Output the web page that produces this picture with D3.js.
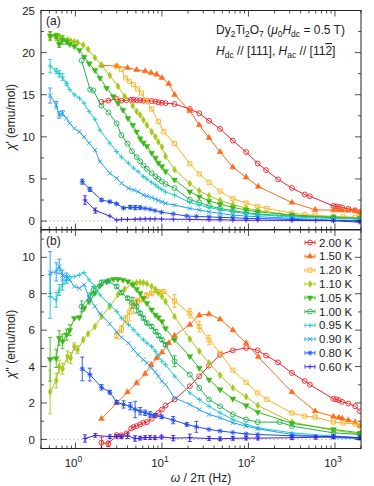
<!DOCTYPE html>
<html>
<head>
<meta charset="utf-8">
<script src="https://cdn.jsdelivr.net/npm/d3@7/dist/d3.min.js"></script>
<style>
body { margin: 0; background: #fff; }
svg text { font-family: "Liberation Sans", Arial, sans-serif; fill: #222; }
</style>
</head>
<body>
<div></div>
<script>
// frequencies (Hz), chi' (panel a) and chi'' (panel b) for every temperature
var f200 = [2.0, 2.4, 3.0, 3.4, 3.9, 4.4, 4.7, 5.1, 5.6, 6.1, 6.7, 7.6, 8.4, 9.1, 10, 11, 14, 21, 27, 35, 47, 66, 94, 128, 160, 220, 318, 447, 512, 958, 1030, 1110, 1210, 1430, 1710, 1950];
var a200 = [14.15, 14.3, 14.5, 14.3, 14.35, 14.4, 14.4, 14.35, 14.35, 14.3, 14.3, 14.25, 14.2, 14.1, 14.05, 14.0, 13.9, 13.3, 12.8, 11.9, 10.95, 9.55, 8.2, 6.85, 6.05, 4.95, 3.93, 3.15, 2.95, 1.8, 1.75, 1.7, 1.62, 1.45, 1.27, 1.07];
var b200 = [-0.18, -0.24, 0.24, 0.22, 0.33, 0.6, 0.68, 0.73, 0.82, 0.91, 0.95, 1.13, 1.31, 1.46, 1.64, 1.86, 2.19, 2.92, 3.47, 4.05, 4.65, 4.89, 5.02, 4.89, 4.6, 4.23, 3.65, 3.21, 3.01, 2.23, 2.2, 2.15, 2.06, 1.97, 1.82, 1.55];
var eb200 = [0.3, 0.15];

var f150 = [2, 3, 4, 5.1, 6.4, 7.5, 8.7, 10, 12, 14, 21, 27, 35, 47, 66, 94, 130, 318, 590, 960, 1110, 1210, 1430, 1710, 1950];
var a150 = [18.5, 18.4, 18.2, 17.95, 17.8, 17.6, 17.4, 17.0, 16.3, 15.0, 13.1, 11.4, 9.9, 8.2, 6.4, 5.2, 4.1, 2.2, 1.35, 1.3, 1.3, 1.28, 1.25, 1.2, 1.05];
var b150 = [1.13, 2.0, 2.6, 3.1, 3.6, 4.1, 4.47, 4.78, 5.29, 5.7, 6.3, 6.82, 6.88, 6.6, 6.0, 5.29, 4.53, 2.6, 1.55, 1.25, 1.2, 1.15, 1.05, 0.95, 0.75];

var f120 = [3.0, 3.4, 3.8, 4.2, 4.7, 5.2, 5.8, 6.6, 7.6, 9.1, 10.5, 14, 21, 27, 35, 47, 66, 94, 128, 163, 318, 447, 590, 960, 1240, 1710, 1950];
var a120 = [18.4, 18.0, 17.0, 16.6, 16.2, 15.7, 15.2, 14.3, 13.3, 11.8, 10.6, 9.2, 6.8, 5.6, 4.6, 3.55, 2.66, 2.14, 1.75, 1.5, 0.95, 0.76, 0.7, 0.55, 0.5, 0.45, 0.4];
var b120 = [5.7, 6.06, 6.6, 7.0, 7.35, 7.55, 7.7, 7.9, 8.03, 8.12, 8.12, 7.6, 6.93, 6.2, 5.47, 4.74, 3.8, 3.14, 2.55, 2.2, 1.45, 1.28, 1.22, 0.95, 0.9, 0.85, 0.73];
var eb120 = [0.15, 0.2, 0.2, 0.5, 0.45, 0.2, 0.15, 0.15, 0.1, 0.1, 0.1, 0.35, 0.25, 0.3, 0.25];

var f110 = [0.51, 0.6, 0.65, 0.71, 0.81, 0.88, 0.97, 1.06, 1.23, 1.4, 1.68, 2.0, 2.5, 3.1, 3.7, 4.6, 5.1, 5.6, 6.1, 6.7, 7.6, 8.4, 9.1, 10, 11, 14, 21, 27, 35, 47, 66, 94, 128, 318, 960, 1950];
var a110 = [21.9, 21.8, 21.9, 21.7, 21.5, 21.4, 21.3, 21.2, 20.9, 20.4, 19.4, 18.5, 17.3, 16.0, 14.8, 13.7, 13.0, 12.6, 12.0, 11.4, 10.6, 10.0, 9.4, 8.8, 7.7, 6.1, 4.45, 3.6, 3.0, 2.45, 1.95, 1.55, 1.25, 0.72, 0.5, 0.4];
var b110 = [2.61, 3.23, 4.0, 3.87, 4.56, 4.47, 5.1, 4.93, 5.47, 5.8, 6.2, 6.75, 7.3, 7.94, 8.25, 8.54, 8.6, 8.62, 8.6, 8.55, 8.4, 8.25, 8.03, 7.85, 7.57, 6.75, 5.51, 4.84, 4.2, 3.52, 2.83, 2.34, 1.86, 0.95, 0.5, 0.3];
var ea110 = [0.5, 0.4, 0.3, 0.3];
var eb110 = [1.2, 0.4, 0.35, 0.3, 0.3, 0.3, 0.2, 0.2];

var f105 = [0.51, 0.6, 0.65, 0.71, 0.79, 0.86, 0.97, 1.11, 1.26, 1.44, 1.68, 1.92, 2.29, 2.74, 3.1, 3.55, 4.05, 4.6, 5.1, 5.6, 6.1, 6.7, 7.6, 8.4, 9.1, 10, 11, 14, 21, 27, 35, 47, 66, 94, 128, 318, 960, 1950];
var a105 = [22.0, 22.0, 21.0, 21.5, 21.3, 21.0, 20.75, 20.3, 19.5, 18.7, 17.9, 17.0, 15.8, 14.8, 14.0, 13.2, 12.2, 11.4, 10.6, 9.8, 9.3, 8.9, 8.1, 7.5, 6.9, 6.5, 5.9, 4.9, 3.5, 2.9, 2.4, 2.0, 1.63, 1.31, 1.1, 0.71, 0.44, 0.32];
var b105 = [4.4, 4.45, 5.57, 5.38, 5.75, 6.0, 6.66, 6.7, 7.2, 7.57, 8.03, 8.43, 8.67, 8.8, 8.8, 8.76, 8.67, 8.5, 8.25, 8.03, 7.76, 7.48, 7.12, 6.84, 6.7, 6.48, 6.1, 5.47, 4.56, 3.92, 3.28, 2.74, 2.23, 1.86, 1.5, 0.88, 0.55, 0.36];
var ea105 = [0.5, 0.3, 0.4, 0.5, 0.3];
var eb105 = [1.2, 0.5, 0.4, 0.4, 0.3, 0.3];

var f100 = [1.18, 1.48, 1.61, 2.0, 2.4, 3.0, 3.4, 4.0, 4.5, 5.1, 5.6, 6.1, 6.7, 7.6, 8.4, 9.1, 10, 11, 14, 21, 27, 35, 47, 66, 94, 128, 230, 318, 960, 1950];
var a100 = [19.05, 15.6, 15.5, 13.7, 12.9, 11.6, 10.2, 9.2, 8.3, 7.6, 7.1, 6.6, 6.2, 5.7, 5.3, 5.0, 4.7, 4.4, 3.9, 2.55, 2.2, 1.8, 1.5, 1.23, 1.0, 0.83, 0.68, 0.6, 0.4, 0.32];
var b100 = [7.3, 7.85, 8.2, 8.6, 8.7, 8.4, 8.06, 7.76, 7.5, 7.3, 6.93, 6.66, 6.39, 6.2, 5.93, 5.7, 5.47, 5.2, 4.29, 3.56, 2.83, 2.19, 1.82, 1.37, 1.09, 0.95, 0.95, 0.73, 0.36, 0.27];
var eb100 = [0.3, 0.2, 0.2, 0.15, 0.1, 0.1, 0.1, 0.1, 0.3, 0.35, 0.1, 0.1, 0.1, 0.1, 0.1, 0.1, 0.1, 0.1, 0.3];

var f095 = [0.51, 0.6, 0.65, 0.71, 0.79, 0.86, 0.97, 1.11, 1.26, 1.44, 1.68, 1.92, 2.5, 3.0, 3.4, 4.1, 4.7, 5.3, 6.1, 6.7, 7.6, 8.4, 9.1, 10, 11, 14, 21, 27, 35, 47, 66, 94, 128, 318, 960, 1950];
var a095 = [18.4, 17.8, 17.5, 17.1, 16.3, 15.6, 15.0, 14.6, 14.0, 13.0, 12.1, 10.8, 9.25, 8.25, 7.6, 6.87, 6.3, 5.87, 5.28, 5.0, 4.6, 4.3, 4.0, 3.75, 3.45, 3.1, 2.2, 1.9, 1.6, 1.35, 1.1, 0.9, 0.75, 0.5, 0.3, 0.24];
var b095 = [7.85, 7.66, 8.2, 8.5, 8.76, 8.94, 8.94, 9.03, 9.16, 8.76, 8.4, 7.94, 7.39, 7.03, 6.66, 6.3, 6.02, 5.75, 5.47, 5.29, 5.1, 4.84, 4.6, 4.29, 4.1, 3.47, 2.55, 2.19, 1.82, 1.46, 1.09, 0.82, 0.64, 0.36, 0.18, 0.09];
var ea095 = [0.8, 0.3, 0.4, 0.4, 0.2];
var eb095 = [1.2, 0.4, 0.3, 0.3, 0.2];

var f090 = f095;
var a090 = [14.9, 13.8, 12.6, 12.8, 12.2, 11.6, 11.0, 10.6, 10.0, 9.25, 8.45, 7.06, 5.67, 5.08, 4.48, 3.89, 3.69, 3.49, 3.1, 2.95, 2.8, 2.6, 2.45, 2.3, 2.1, 1.9, 1.5, 1.31, 1.1, 0.91, 0.71, 0.6, 0.52, 0.32, 0.12, 0.04];
var b090 = [9.16, 9.2, 9.5, 9.0, 8.94, 8.76, 8.4, 8.3, 8.5, 7.8, 7.3, 6.9, 6.35, 5.9, 5.6, 5.29, 4.93, 4.65, 4.38, 4.2, 3.92, 3.69, 3.47, 3.19, 3.01, 2.28, 1.92, 1.64, 1.37, 1.19, 0.91, 0.73, 0.58, 0.27, 0.09, 0.04];
var ea090 = [0.9, 0.4, 0.4, 0.3];
var eb090 = [1.15, 0.5, 0.4, 0.3, 0.2];

var f080 = [1.2, 1.47, 2.0, 2.5, 3.0, 3.6, 4.3, 4.9, 5.6, 6.4, 7.3, 8.3, 9.9, 13.5, 19.4, 25, 35, 47, 66, 94, 128, 318, 960, 1950];
var a080 = [4.68, 3.77, 2.5, 2.3, 2.05, 1.55, 1.65, 1.6, 1.6, 1.5, 1.4, 1.25, 1.05, 0.85, 0.6, 0.55, 0.5, 0.44, 0.4, 0.32, 0.3, 0.2, 0.05, -0.15];
var b080 = [3.87, 3.56, 2.86, 2.59, 2.04, 1.92, 1.82, 1.64, 1.55, 1.46, 1.37, 1.31, 1.24, 1.06, 0.82, 0.69, 0.55, 0.46, 0.38, 0.3, 0.27, 0.2, 0.15, 0.09];
var ea080 = [0.3, 0.25, 0.15, 0.1, 0.1, 0.1, 0.2, 0.25, 0.2];
var eb080 = [0.65, 0.35, 0.15, 0.1, 0.1, 0.2, 0.2, 0.45, 0.2, 0.15, 0.15, 0.1, 0.1, 0.2, 0.1, 0.3];

var f060 = [1.29, 1.7, 2.5, 3.0, 3.4, 4.0, 4.9, 5.6, 6.4, 7.3, 8.3, 9.9, 13.5, 21, 35, 47, 66, 94, 128, 318, 600, 960, 1950];
var a060 = [2.5, 1.25, 0.6, 0.12, 0.2, 0.2, 0.22, 0.24, 0.26, 0.26, 0.26, 0.24, 0.22, 0.2, 0.15, 0.15, 0.12, 0.1, 0.1, 0.08, 0.06, 0.05, 0.0];
var b060 = [0.05, 0.22, 0.15, 0.17, 0.15, 0.2, 0.05, 0.07, 0.1, 0.1, 0.09, 0.13, 0.07, 0.09, 0.05, 0.03, 0.06, 0.07, 0.07, 0.09, 0.12, 0.15, 0.09];
var ea060 = [0.5, 0.3];
var eb060 = [0.2, 0.1, 0.1, 0.1, 0.1, 0.15, 0.15, 0.1, 0.1, 0.1, 0.1, 0.1, 0.15, 0.2, 0.1, 0.1, 0.1, 0.1, 0.1, 0.1, 0.1, 0.1, 0.1];

var temps = ["2.00 K", "1.50 K", "1.20 K", "1.10 K", "1.05 K", "1.00 K", "0.95 K", "0.90 K", "0.80 K", "0.60 K"];
var colors = ["#ee2228", "#ff6a1c", "#ffb11c", "#a6c81a", "#3cb91a", "#1eb250", "#1cc8c8", "#1e9ff0", "#1e4ff0", "#3c1ee8"];
var shapes = ["circle", "triangle", "square", "diamond", "triDown", "circle", "plus", "cross", "star", "plus"];

var series = [
    {f: f200, a: a200, b: b200, ea: [], eb: eb200},
    {f: f150, a: a150, b: b150, ea: [], eb: []},
    {f: f120, a: a120, b: b120, ea: [], eb: eb120},
    {f: f110, a: a110, b: b110, ea: ea110, eb: eb110},
    {f: f105, a: a105, b: b105, ea: ea105, eb: eb105},
    {f: f100, a: a100, b: b100, ea: [], eb: eb100},
    {f: f095, a: a095, b: b095, ea: ea095, eb: eb095},
    {f: f090, a: a090, b: b090, ea: ea090, eb: eb090},
    {f: f080, a: a080, b: b080, ea: ea080, eb: eb080},
    {f: f060, a: a060, b: b060, ea: ea060, eb: eb060}
];
series.forEach((s, i) => { s.label = temps[i]; s.color = colors[i]; s.shape = shapes[i]; });

var width = 374;
var height = 486;

var svg = d3.select('div')
    .append('svg')
    .attr('width', width)
    .attr('height', height);

var x = d3.scaleLog().domain([0.4, 2000]).range([41, 361]);
var yA = d3.scaleLinear().domain([-1, 25]).range([229.5, 10.5]);
var yB = d3.scaleLinear().domain([-0.5, 11.5]).range([448.5, 230]);

// gnuplot-like point types, kept small
function markerPath(shape) {
    if (shape == "circle") return d3.symbol(d3.symbolCircle, 19)();
    if (shape == "triangle" || shape == "triDown") return d3.symbol(d3.symbolTriangle, 15)();
    if (shape == "square") return d3.symbol(d3.symbolSquare, 17)();
    if (shape == "diamond") return d3.symbol(d3.symbolDiamond, 14)();
    if (shape == "plus") return "M-2.5,0H2.5M0,-2.5V2.5";
    if (shape == "cross") return "M-2.2,-2.2L2.2,2.2M-2.2,2.2L2.2,-2.2";
    return "M-2.6,0H2.6M0,-2.6V2.6M-1.9,-1.9L1.9,1.9M-1.9,1.9L1.9,-1.9";
}
function drawMarker(g, s, px, py) {
    var filled = (s.shape == "triangle" || s.shape == "triDown" || s.shape == "diamond");
    var rot = s.shape == "triDown" ? " rotate(180)" : "";
    g.append("path")
        .attr("d", markerPath(s.shape))
        .attr("transform", "translate(" + px + "," + py + ")" + rot)
        .attr("fill", filled ? s.color : "none")
        .attr("stroke", s.color)
        .attr("stroke-width", filled ? 0.5 : 0.9);
}

function drawPanel(y, key, errKey, top, bottom, majorStep, minorStep, tag, ylabel, labelY) {
    var x0 = x.range()[0], x1 = x.range()[1];
    var clipId = "clip" + key;
    svg.append("clipPath").attr("id", clipId)
        .append("rect").attr("x", x0).attr("y", top).attr("width", x1 - x0).attr("height", bottom - top);

    // dashed zero line
    svg.append("line")
        .attr("x1", x0).attr("x2", x1)
        .attr("y1", y(0)).attr("y2", y(0))
        .attr("stroke", "#aaa").attr("stroke-width", 0.6).attr("stroke-dasharray", "2,2");

    var plot = svg.append("g").attr("clip-path", "url(#" + clipId + ")");
    var line = d3.line().x(d => x(d[0])).y(d => y(d[1]));

    series.forEach(function(s) {
        var pts = s.f.map((f, i) => [f, s[key][i], s[errKey][i] || 0]);
        var g = plot.append("g");
        g.append("path")
            .attr("d", line(pts))
            .attr("fill", "none")
            .attr("stroke", s.color)
            .attr("stroke-width", 1);
        pts.forEach(function(p) {
            var px = x(p[0]), py = y(p[1]);
            if (p[2] > 0) {
                var e1 = y(p[1] + p[2]), e2 = y(p[1] - p[2]);
                g.append("path")
                    .attr("d", "M" + px + "," + e1 + "V" + e2 + "M" + (px - 2) + "," + e1 + "H" + (px + 2) + "M" + (px - 2) + "," + e2 + "H" + (px + 2))
                    .attr("stroke", s.color).attr("stroke-width", 0.9).attr("fill", "none");
            }
            drawMarker(g, s, px, py);
        });
    });

    // frame
    svg.append("rect")
        .attr("x", x0).attr("y", top)
        .attr("width", x1 - x0).attr("height", bottom - top)
        .attr("fill", "none").attr("stroke", "#222").attr("stroke-width", 1);

    var ticks = svg.append("g").attr("stroke", "#222").attr("stroke-width", 0.8);
    // x ticks, log decades and minor ones, top and bottom
    for (var e = -1; e <= 3; e++) {
        for (var k = 1; k <= 9; k++) {
            var v = k * Math.pow(10, e);
            if (v < 0.4 || v > 2000) continue;
            var len = k == 1 ? 6 : 3;
            ticks.append("line").attr("x1", x(v)).attr("x2", x(v)).attr("y1", bottom).attr("y2", bottom - len);
            ticks.append("line").attr("x1", x(v)).attr("x2", x(v)).attr("y1", top).attr("y2", top + len);
        }
    }
    // y ticks, left and right
    var dom = y.domain();
    d3.range(Math.ceil(dom[0] / minorStep) * minorStep, dom[1] + 1e-6, minorStep).forEach(function(v) {
        var major = Math.abs(v / majorStep - Math.round(v / majorStep)) < 1e-6;
        var len = major ? 6 : 3;
        ticks.append("line").attr("x1", x0).attr("x2", x0 + len).attr("y1", y(v)).attr("y2", y(v));
        ticks.append("line").attr("x1", x1).attr("x2", x1 - len).attr("y1", y(v)).attr("y2", y(v));
        if (major) {
            svg.append("text")
                .attr("x", 35).attr("y", y(v)).attr("dy", "0.36em")
                .attr("text-anchor", "end").attr("font-size", 11.5)
                .text(v);
        }
    });

    svg.append("text").attr("x", 46).attr("y", top + 14.5).attr("font-size", 12).text(tag);

    var yl = svg.append("text")
        .attr("transform", "translate(15," + labelY + ") rotate(-90)")
        .attr("text-anchor", "middle").attr("font-size", 12);
    yl.append("tspan").attr("font-style", "italic").text("\u03c7");
    yl.append("tspan").text(ylabel);
}

drawPanel(yA, "a", "ea", 10.5, 229.5, 5, 2.5, "(a)", "' (emu/mol)", 117);
drawPanel(yB, "b", "eb", 230, 448.5, 2, 1, "(b)", "'' (emu/mol)", 344);

// x tick labels 10^n
[0, 1, 2, 3].forEach(function(e) {
    var t = svg.append("text")
        .attr("x", x(Math.pow(10, e)) - 2).attr("y", 467)
        .attr("text-anchor", "middle").attr("font-size", 11.5);
    t.append("tspan").text("10");
    t.append("tspan").attr("dy", -5).attr("font-size", 8.5).text(e);
});

var xl = svg.append("text").attr("x", 201).attr("y", 482).attr("text-anchor", "middle").attr("font-size", 12);
xl.append("tspan").attr("font-style", "italic").text("\u03c9");
xl.append("tspan").text(" / 2\u03c0 (Hz)");

// annotation in panel (a): pieces are [text, kind], kind: n normal, i italic, s subscript, o overline
function richText(xp, yp, pieces) {
    var t = svg.append("text").attr("x", xp).attr("y", yp).attr("font-size", 12);
    var shift = 0;
    pieces.forEach(function(p) {
        var ts = t.append("tspan").text(p[0]);
        var want = p[1] == "s" ? 3 : 0;
        if (want != shift) { ts.attr("dy", want - shift); shift = want; }
        if (p[1] == "s") ts.attr("font-size", 8.5);
        if (p[1] == "i") ts.attr("font-style", "italic");
        if (p[1] == "o") ts.style("text-decoration", "overline");
    });
    return t;
}
richText(216, 34, [["Dy", "n"], ["2", "s"], ["Ti", "n"], ["2", "s"], ["O", "n"], ["7", "s"], [" (", "n"],
    ["\u03bc", "i"], ["0", "s"], ["H", "i"], ["dc", "s"], [" = 0.5 T)", "n"]]);
richText(216, 55, [["H", "i"], ["dc", "s"], [" // [111], ", "n"], ["H", "i"], ["ac", "s"], [" // [11", "n"], ["2", "o"], ["]", "n"]]);

// legend
var legend = svg.append("g");
series.forEach(function(s, i) {
    var ly = 242.5 + i * 13.8;
    var lx = 310;
    legend.append("path")
        .attr("d", "M" + (lx - 5) + "," + ly + "H" + (lx + 5) + "M" + (lx - 5) + "," + (ly - 2) + "V" + (ly + 2) + "M" + (lx + 5) + "," + (ly - 2) + "V" + (ly + 2))
        .attr("stroke", s.color).attr("stroke-width", 0.9);
    drawMarker(legend, s, lx, ly);
    legend.append("text")
        .attr("x", 319).attr("y", ly).attr("dy", "0.36em")
        .attr("font-size", 11.5)
        .text(s.label);
});
</script>
</body>
</html>
